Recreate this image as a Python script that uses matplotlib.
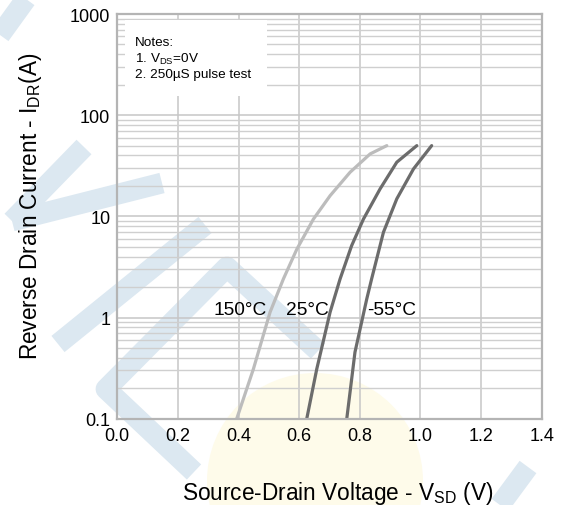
import numpy as np
import matplotlib
matplotlib.use('Agg')
from matplotlib import pyplot as plt
from matplotlib.patches import Rectangle, Circle

plt.rcParams['font.family'] = ['Liberation Sans', 'DejaVu Sans']
plt.rcParams['mathtext.fontset'] = 'custom'
plt.rcParams['mathtext.rm'] = 'Liberation Sans'
plt.rcParams['mathtext.it'] = 'Liberation Sans:italic'

# Curves: source-drain voltage (V) vs reverse drain current (A)
v_150 = [0.394, 0.449, 0.504, 0.548, 0.592, 0.647, 0.702, 0.768, 0.834, 0.889]
i_150 = [0.1, 0.31, 1.13, 2.41, 4.72, 9.4, 16.0, 27.3, 41.4, 50]
v_25 = [0.625, 0.658, 0.702, 0.735, 0.773, 0.812, 0.867, 0.922, 0.988]
i_25 = [0.1, 0.31, 1.13, 2.41, 5.13, 9.4, 18.7, 34.3, 50]
v_m55 = [0.757, 0.784, 0.823, 0.839, 0.878, 0.922, 0.977, 1.037]
i_m55 = [0.1, 0.454, 1.53, 2.41, 6.97, 14.9, 29.4, 50]

curve_labels = ['150°C', '25°C', '-55°C']
label_v = [0.405, 0.626, 0.906]
label_i = 1.19

xticks = [0.0, 0.2, 0.4, 0.6, 0.8, 1.0, 1.2, 1.4]
yticks = [0.1, 1, 10, 100, 1000]
ytick_labels = ['0.1', '1', '10', '100', '1000']
notes = ['Notes:', r'1. V$_{\mathrm{DS}}$=0V', '2. 250µS pulse test']

W, H = 561, 506
fig = plt.figure(figsize=(W / 100, H / 100), dpi=100)

# faint watermark drawn behind the chart (pixel coordinates)
bg = fig.add_axes([0, 0, 1, 1], zorder=-1)
bg.set_xlim(0, W)
bg.set_ylim(H, 0)
bg.axis('off')
bg.add_patch(Circle((315, 482), 108, color='#fefbea', lw=0))
wm = '#dce8f1'
stripes = [
    [(0, 36), (26, 0)],
    [(12, 222), (84, 148)],
    [(12, 222), (162, 184)],
    [(58, 345), (205, 226)],
    [(318, 352), (227, 268), (106, 390), (194, 473)],
    [(500, 506), (528, 468)],
]
for s in stripes:
    xs, ys = zip(*s)
    bg.plot(xs, ys, color=wm, lw=15, solid_capstyle='butt', solid_joinstyle='round')

ax = fig.add_axes([117.3 / W, 1 - 419.7 / H, 424.4 / W, 404.7 / H])
ax.set_facecolor('none')
ax.set_yscale('log')
ax.set_xlim(0, 1.4)
ax.set_ylim(0.1, 1000)

ax.grid(True, which='major', color='#c6c6c6', lw=1.1)
ax.grid(True, which='minor', axis='y', color='#cfcfcf', lw=1.0)
for sp in ax.spines.values():
    sp.set_color('#b4b4b4')
    sp.set_linewidth(1.6)

ax.plot(v_150, i_150, color='#bcbcbc', lw=2.3, solid_capstyle='round')
ax.plot(v_25, i_25, color='#6c6c6c', lw=2.3, solid_capstyle='round')
ax.plot(v_m55, i_m55, color='#6c6c6c', lw=2.3, solid_capstyle='round')

for lab, lv in zip(curve_labels, label_v):
    ax.text(lv, label_i, lab, ha='center', va='center', fontsize=13.8)

ax.set_xticks(xticks)
ax.set_xticklabels([f'{t:.1f}' for t in xticks], fontsize=13)
ax.set_yticks(yticks)
ax.set_yticklabels(ytick_labels, fontsize=13)
ax.tick_params(which='both', length=0)
ax.tick_params(axis='y', pad=5)
ax.tick_params(axis='x', pad=6)
ax.yaxis.set_minor_formatter(matplotlib.ticker.NullFormatter())

ax.set_xlabel(r'Source-Drain Voltage - V$_{\mathrm{SD}}$ (V)', fontsize=16.3, labelpad=25, x=0.519)
ax.set_ylabel(r'Reverse Drain Current - I$_{\mathrm{DR}}$(A)', fontsize=16.3, labelpad=19, y=0.527)

# notes box
ax.add_patch(Rectangle((0.018, 0.797), 0.335, 0.188, transform=ax.transAxes,
                       facecolor='white', edgecolor='none', zorder=2.5))
for k, line in enumerate(notes):
    ax.text(0.042, [0.931, 0.889, 0.852][k], line, transform=ax.transAxes,
            fontsize=9.7, va='center', ha='left', zorder=3)

fig.savefig('out.png', dpi=100)
